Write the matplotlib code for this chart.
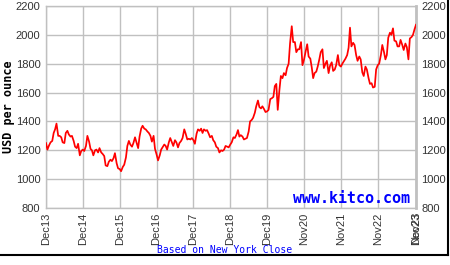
import matplotlib
matplotlib.use("Agg")
import matplotlib.pyplot as plt
import pandas as pd
import numpy as np
from matplotlib.lines import Line2D

# Gold price, USD per ounce, two readings per month (1st and 15th), Dec 2013 .. Dec 2023
prices = [
    1250, 1205,
    # 2014
    1235, 1255, 1265, 1320, 1345, 1385, 1300, 1300, 1290, 1255, 1250, 1320,
    1335, 1310, 1295, 1300, 1265, 1225, 1215, 1245, 1165, 1195, 1205, 1195,
    # 2015
    1230, 1300, 1260, 1210, 1200, 1165, 1200, 1205, 1185, 1215, 1185, 1175,
    1160, 1095, 1090, 1120, 1135, 1125, 1145, 1180, 1110, 1075, 1070, 1055,
    # 2016
    1085, 1100, 1150, 1230, 1265, 1240, 1225, 1250, 1290, 1255, 1215, 1295,
    1350, 1370, 1350, 1345, 1330, 1320, 1300, 1260, 1300, 1210, 1170, 1130,
    # 2017
    1165, 1205, 1225, 1240, 1230, 1205, 1255, 1285, 1255, 1230, 1270, 1255,
    1220, 1250, 1265, 1285, 1345, 1315, 1275, 1280, 1275, 1285, 1270, 1245,
    # 2018
    1315, 1345, 1335, 1350, 1320, 1345, 1335, 1340, 1315, 1290, 1300, 1270,
    1255, 1225, 1215, 1185, 1200, 1195, 1205, 1230, 1225, 1220, 1240, 1255,
    # 2019
    1290, 1285, 1310, 1340, 1295, 1305, 1295, 1275, 1280, 1285, 1330, 1400,
    1410, 1425, 1460, 1505, 1545, 1500, 1490, 1505, 1485, 1465, 1470, 1480,
    # 2020
    1555, 1560, 1570, 1645, 1660, 1480, 1620, 1715, 1700, 1735, 1720, 1770,
    1800, 1940, 2060, 1950, 1950, 1880, 1900, 1900, 1950, 1790, 1830, 1880,
    # 2021
    1935, 1850, 1835, 1775, 1700, 1735, 1745, 1780, 1830, 1880, 1900, 1770,
    1800, 1820, 1735, 1785, 1810, 1750, 1760, 1790, 1860, 1790, 1780, 1800,
    # 2022
    1820, 1835, 1860, 1910, 2050, 1920, 1945, 1930, 1860, 1820, 1850, 1830,
    1740, 1715, 1780, 1760, 1700, 1660, 1665, 1635, 1640, 1760, 1790, 1800,
    # 2023
    1860, 1930, 1880, 1830, 1860, 1980, 2015, 2000, 2045, 1960, 1955, 1920,
    1920, 1965, 1930, 1895, 1940, 1915, 1830, 1975, 1985, 2000, 2040, 2070,
]
dates = pd.date_range("2013-12-01", periods=len(prices), freq="SMS")

y_ticks = [800, 1000, 1200, 1400, 1600, 1800, 2000, 2200]
x_tick_years = [2013, 2014, 2015, 2016, 2017, 2018, 2019, 2020, 2021, 2022]
x_tick_labels = ["Dec13", "Dec14", "Dec15", "Dec16", "Dec17", "Dec18", "Dec19",
                 "Nov20", "Nov21", "Nov22", "Dec23"]
overlay_label = "Nov23"

fig = plt.figure(figsize=(4.5, 2.65), dpi=100)
fig.patch.set_facecolor("white")
ax = fig.add_axes([46 / 450, 57 / 265, 370 / 450, 202 / 265])

ax.plot(dates, prices, color="#ff0000", lw=1.25, zorder=3)

xt = [pd.Timestamp(f"{y}-12-01") for y in x_tick_years] + [dates[-1]]
ax.set_xlim(dates[0], dates[-1])
ax.set_ylim(800, 2200)
ax.set_xticks(xt)
ax.set_xticklabels(x_tick_labels, rotation=90, fontsize=8,
                   family="Liberation Sans", color="#333333")
ax.set_yticks(y_ticks)
ax.set_yticklabels([str(v) for v in y_ticks], fontsize=8,
                   family="Liberation Sans", color="#333333")
ax.tick_params(axis="both", length=0)
ax.tick_params(axis="y", pad=4, labelright=True, right=False)
ax.tick_params(axis="x", pad=3.5)
ax.grid(True, color="#c0c0c0", lw=1.0, zorder=0)
for s in ax.spines.values():
    s.set_color("#c0c0c0")
    s.set_linewidth(1.0)
ax.spines["right"].set_linewidth(2.0)

ax.text(dates[-1], -0.02, overlay_label, transform=ax.get_xaxis_transform(),
        rotation=90, ha="center", va="top", fontsize=8,
        family="Liberation Sans", color="#333333")

ax.text(0.985, 0.01, "www.kitco.com", transform=ax.transAxes, ha="right",
        va="bottom", fontsize=10.8, fontweight="bold",
        family="DejaVu Sans Mono", color="#0000ff", zorder=4)

fig.text(8.5 / 450, 1 - 107 / 265, "USD per ounce", rotation=90, ha="center",
         va="center", fontsize=8.5, fontweight="bold",
         family="DejaVu Sans Mono", color="black")
fig.text(225 / 450, 1 - 250 / 265, "Based on New York Close", ha="center",
         va="center", fontsize=7, family="DejaVu Sans Mono", color="#0000ff")

fig.add_artist(Line2D([447.5 / 450, 447.5 / 450], [1 - 254.5 / 265, 1],
                      transform=fig.transFigure, color="black", lw=1.5))
fig.add_artist(Line2D([0, 447.5 / 450], [1 - 254.5 / 265, 1 - 254.5 / 265],
                      transform=fig.transFigure, color="black", lw=1.5))

fig.savefig("out.png", dpi=100)
